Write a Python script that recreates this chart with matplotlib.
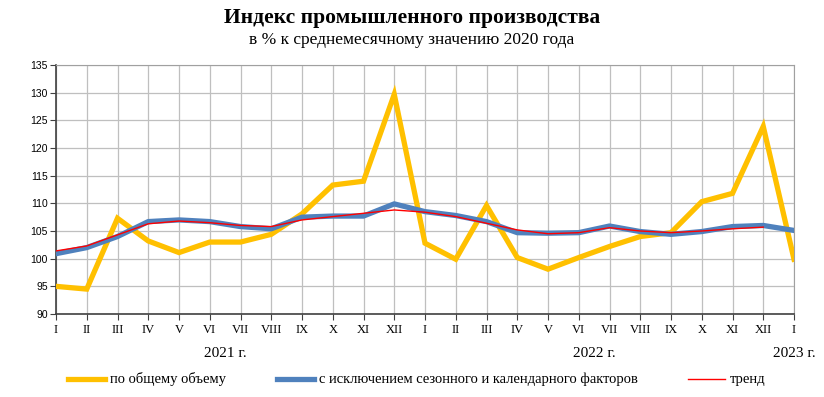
import matplotlib
matplotlib.use("Agg")
import matplotlib.pyplot as plt
from matplotlib.lines import Line2D

months = ["I", "II", "III", "IV", "V", "VI", "VII", "VIII", "IX", "X", "XI", "XII",
          "I", "II", "III", "IV", "V", "VI", "VII", "VIII", "IX", "X", "XI", "XII", "I"]
years = ["2021 г.", "2022 г.", "2023 г."]
year_pos = [5.5, 17.5, 24]

total = [95.0, 94.5, 107.3, 103.2, 101.1, 103.0, 103.0, 104.4, 108.1, 113.3, 114.0, 129.7,
         102.8, 99.9, 109.6, 100.2, 98.1, 100.2, 102.2, 104.0, 104.7, 110.3, 111.8, 123.9, 99.9]
seasonal = [100.9, 102.0, 104.0, 106.7, 107.0, 106.7, 105.8, 105.4, 107.5, 107.7, 107.7, 109.9,
            108.5, 107.8, 106.7, 104.7, 104.6, 104.7, 105.9, 104.9, 104.4, 104.9, 105.8, 106.0, 105.1]
trend = [101.4, 102.3, 104.3, 106.3, 106.8, 106.5, 106.0, 105.8, 107.0, 107.6, 108.2, 108.8,
         108.4, 107.6, 106.4, 105.2, 104.5, 104.7, 105.6, 105.0, 104.7, 105.0, 105.4, 105.7]

labels = ["по общему объему", "с исключением сезонного и календарного факторов", "тренд"]
colors = ["#FFC000", "#4F81BD", "#FF0000"]

serif = ["Liberation Serif", "DejaVu Serif"]

fig = plt.figure(figsize=(8.24, 3.97), dpi=100)
ax = fig.add_axes([56/824, 1-314/397, (794-56)/824, (314-65)/397])

x = list(range(len(months)))
ax.plot(x, total, color=colors[0], lw=3.8, solid_joinstyle="miter", zorder=3)
ax.plot(x, seasonal, color=colors[1], lw=3.8, zorder=4)
ax.plot(list(range(len(trend))), trend, color=colors[2], lw=1.0, zorder=5)

ax.set_xlim(0, 24)
ax.set_ylim(90, 135)
ax.set_xticks(x)
ax.set_xticklabels(months, family=serif, fontsize=9)
ax.set_yticks(range(90, 136, 5))
ax.set_yticklabels([str(v) for v in range(90, 136, 5)], family=["Liberation Sans Narrow", "Liberation Sans"], fontsize=7.5)
ax.grid(True, color="#BFBFBF", lw=0.9)
ax.set_axisbelow(True)
for s in ["top", "right"]:
    ax.spines[s].set_color("#A0A0A0")
for s in ["bottom", "left"]:
    ax.spines[s].set_color("#404040")
    ax.spines[s].set_linewidth(1.2)
ax.tick_params(axis="x", length=4, direction="out", pad=3, color="#404040")
ax.tick_params(axis="y", length=4, direction="out", pad=2, color="#404040")

for yp, yl in zip(year_pos, years):
    ax.text(yp, -0.16, yl, transform=ax.get_xaxis_transform(), ha="center", va="center",
            family=serif, fontsize=11)

fig.text(0.5, 1-18/397, "Индекс промышленного производства", ha="center", va="center",
         family=serif, fontsize=15.5, fontweight="bold")
fig.text(0.5, 1-40/397, "в % к среднемесячному значению 2020 года", ha="center", va="center",
         family=serif, fontsize=12.5)

# legend
handles = [Line2D([], [], color=colors[0], lw=3.8),
           Line2D([], [], color=colors[1], lw=3.8),
           Line2D([], [], color=colors[2], lw=1.0)]
leg_x = [68, 277, 688]
for h, lx, lab in zip(handles, leg_x, labels):
    fig.add_artist(Line2D([lx/824, (lx+37)/824], [1-379/397, 1-379/397], color=h.get_color(),
                          lw=h.get_linewidth(), transform=fig.transFigure))
    fig.text((lx+42)/824, 1-379/397, lab, ha="left", va="center", family=serif, fontsize=10.5)

fig.savefig("out.png", dpi=100)
